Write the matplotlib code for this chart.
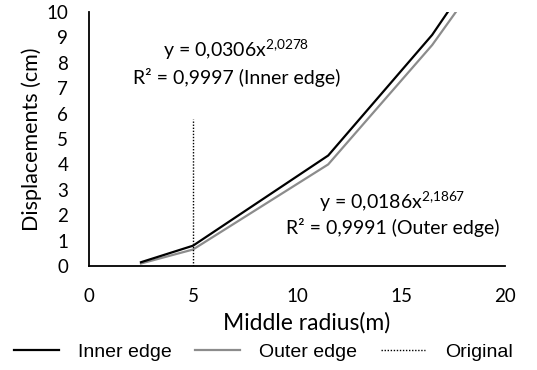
import matplotlib
matplotlib.use("Agg")
import matplotlib.pyplot as plt

plt.rcParams['font.family'] = ['Lato', 'DejaVu Sans']
plt.rcParams['mathtext.fontset'] = 'custom'
plt.rcParams['mathtext.rm'] = 'Lato'
plt.rcParams['mathtext.it'] = 'Lato'

radius = [2.5, 5, 11.5, 16.5, 20]
inner_edge = [0.15, 0.8, 4.35, 9.1, 13.3]
outer_edge = [0.1, 0.65, 4.0, 8.7, 12.7]
original_x = [5, 5]
original_y = [0, 5.8]
x_ticks = [0, 5, 10, 15, 20]
y_ticks = list(range(0, 11))

fig = plt.figure(figsize=(5.37, 3.70), dpi=100)
ax = fig.add_axes([0.1657, 0.281, 0.9404 - 0.1657, 0.9676 - 0.281])

l1, = ax.plot(radius, inner_edge, color='black', lw=1.6, label='Inner edge', zorder=3)
l2, = ax.plot(radius, outer_edge, color='#8c8c8c', lw=1.6, label='Outer edge', zorder=2)
l3, = ax.plot(original_x, original_y, color='black', lw=1.0, ls=(0, (1, 1.2)), label='Original', zorder=4)

ax.set_xlim(0, 20)
ax.set_ylim(0, 10)
ax.set_xticks(x_ticks)
ax.set_yticks(y_ticks)
ax.tick_params(length=0, labelsize=13.5)
ax.tick_params(axis='y', pad=15)
ax.tick_params(axis='x', pad=16)
for s in ['top', 'right']:
    ax.spines[s].set_visible(False)
for s in ['left', 'bottom']:
    ax.spines[s].set_linewidth(1.3)

ax.set_xlabel('Middle radius(m)', fontsize=16.5)
ax.xaxis.set_label_coords(0.523, -0.18)
ax.set_ylabel('Displacements (cm)', fontsize=15.5, labelpad=3)

fs = 14
ax.text(7.08, 8.5, 'y = 0,0306x$^{2{,}0278}$', ha='center', va='center', fontsize=fs)
ax.text(7.08, 7.44, 'R² = 0,9997 (Inner edge)', ha='center', va='center', fontsize=fs)
ax.text(14.6, 2.52, 'y = 0,0186x$^{2{,}1867}$', ha='center', va='center', fontsize=fs)
ax.text(14.6, 1.5, 'R² = 0,9991 (Outer edge)', ha='center', va='center', fontsize=fs)

fig.legend(handles=[l1, l2, l3], loc='center', bbox_to_anchor=(0.49, 0.048), ncol=3,
           frameon=False, prop={'family': 'Liberation Sans', 'size': 14},
           handlelength=2.3, columnspacing=1.2, handletextpad=1.0)

fig.savefig('out.png', dpi=100)
